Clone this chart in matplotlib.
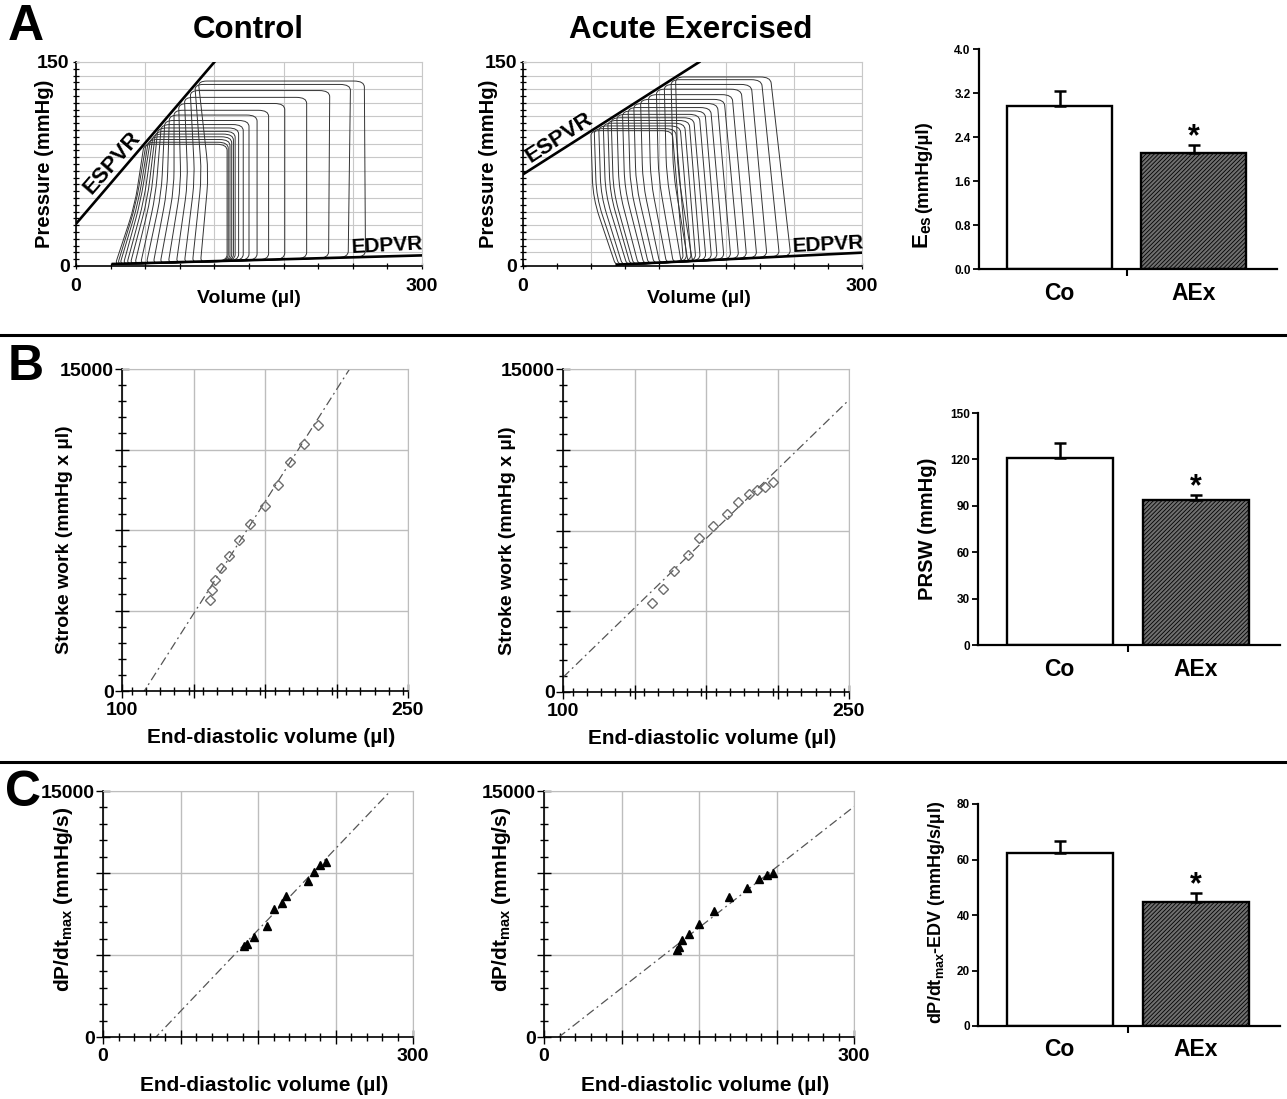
import numpy as np
import matplotlib
matplotlib.use('Agg')
import matplotlib.pyplot as plt
from matplotlib.path import Path
from matplotlib.patches import PathPatch
from matplotlib.lines import Line2D
from matplotlib.ticker import MultipleLocator, FixedLocator, FuncFormatter

plt.rcParams['font.family'] = ['Liberation Sans', 'DejaVu Sans']
plt.rcParams['font.weight'] = 'bold'
plt.rcParams['axes.labelweight'] = 'bold'
plt.rcParams['mathtext.fontset'] = 'custom'
plt.rcParams['mathtext.rm'] = 'Liberation Sans:bold'
plt.rcParams['mathtext.it'] = 'Liberation Sans:bold'
plt.rcParams['mathtext.bf'] = 'Liberation Sans:bold'
plt.rcParams['hatch.linewidth'] = 0.6

# ---- A: PV loops, one entry per loop (volume ul, pressure mmHg), smallest loop first
ctl_ptop = [89.5, 91, 93, 95, 97, 99, 101.5, 104, 107, 111, 114.5, 119.5, 124, 129, 133.5, 136]
ctl_ves = [59, 61, 63, 65, 67, 69, 71, 74, 77, 81, 85, 89, 94, 99, 103, 106]
ctl_mid = [51, 52, 54, 56, 59, 62, 65, 69, 74, 79, 85, 91, 97, 103, 109, 115]
ctl_foot = [34, 36, 38, 41, 44, 47, 51, 56, 61, 67, 73, 80, 87, 94, 101, 108]
ctl_edv_top = [131, 132, 133.5, 135, 136.5, 138, 141, 145, 150, 157, 167, 181, 200, 220, 238, 250]
ctl_edv = [131, 132, 133.5, 135, 136.5, 138, 141, 145, 150, 157, 167, 181, 200, 219, 236, 251]
ctl_espvr_v = [0, 120]
ctl_espvr_p = [31, 150]
ctl_edpvr_v = [32, 300]
ctl_edpvr_p = [1.5, 7.8]

aex_ptop = [99.5, 101, 103, 105, 107, 109, 111.5, 114, 116.5, 119.5, 122.5, 126, 130, 133.5, 137, 139]
aex_ves = [60, 63, 67, 71, 75, 78, 83, 88, 93, 98, 104, 111, 118, 125, 131, 135]
aex_mid = [62, 65, 69, 73, 77, 80, 85, 90, 95, 100, 106, 113, 120, 127, 133, 137]
aex_foot = [82, 85, 88, 92, 95, 98, 102, 107, 111, 116, 121, 127, 133, 140, 146, 150]
aex_edv_top = [132, 135, 139, 143, 147, 151, 156, 161, 166, 172, 178, 185, 193, 202, 211, 219]
aex_edv = [142, 145, 149, 153, 157, 162, 167, 172, 178, 184, 191, 198, 207, 216, 227, 237]
aex_espvr_v = [0, 156]
aex_espvr_p = [67.4, 150]
aex_edpvr_v = [83, 300]
aex_edpvr_p = [1.0, 9.8]

# ---- bar charts (mean, SEM)
groups = ['Co', 'AEx']
ees_mean = [2.96, 2.11]
ees_sem = [0.28, 0.14]
prsw_mean = [120.9, 93.9]
prsw_sem = [9.7, 2.8]
dpdt_edv_mean = [62.5, 44.8]
dpdt_edv_sem = [4.3, 3.0]

# ---- B: stroke work vs EDV
b_ctl_edv = [146.0, 147.2, 148.6, 152.1, 155.9, 161.5, 167.3, 175.0, 181.6, 188.3, 195.3, 202.8]
b_ctl_sw = [4239, 4705, 5155, 5745, 6289, 7019, 7795, 8634, 9596, 10683, 11506, 12391]
b_aex_edv = [146.6, 152.3, 158.4, 165.4, 171.3, 178.8, 186.2, 191.9, 197.5, 202.0, 205.9, 210.2]
b_aex_sw = [4129, 4778, 5629, 6371, 7144, 7732, 8258, 8845, 9186, 9387, 9510, 9742]
b_ctl_fit = (139.3, -15560)   # slope, intercept
b_aex_fit = (85.9, -7910)

# ---- C: dP/dt max vs EDV
c_ctl_edv = [136.1, 139.4, 146.5, 158.7, 165.2, 173.2, 177.1, 198.1, 203.9, 210.3, 216.1]
c_ctl_dpdt = [5556, 5658, 6106, 6778, 7816, 8141, 8609, 9505, 10034, 10482, 10685]
c_aex_edv = [128.8, 130.4, 133.4, 140.5, 149.8, 164.4, 178.6, 196.0, 208.3, 215.4, 221.2]
c_aex_dpdt = [5292, 5495, 5902, 6269, 6920, 7693, 8528, 9098, 9607, 9871, 9993]
c_ctl_fit = (66.1, -3391)
c_aex_fit = (49.2, -713)

W, H = 1287, 1099
fig = plt.figure(figsize=(W / 100, H / 100), dpi=100)


def box(x0, y0, x1, y1):
    return [x0 / W, 1 - y1 / H, (x1 - x0) / W, (y1 - y0) / H]


def ends_only(lo, hi):
    return FuncFormatter(lambda v, p: '%g' % v if abs(v - lo) < 1e-6 or abs(v - hi) < 1e-6 else '')


def loop_path(pts, cuts, scale):
    # closed polyline with rounded corners (quadratic bezier at each vertex)
    p = np.asarray(pts, float) / scale
    n = len(p)
    verts, codes = [], []
    for i in range(n):
        prev, cur, nxt = p[i - 1], p[i], p[(i + 1) % n]
        d1, d2 = prev - cur, nxt - cur
        l1, l2 = np.hypot(*d1), np.hypot(*d2)
        a = cur + d1 * min(cuts[i], 0.45 * l1) / l1
        b = cur + d2 * min(cuts[i], 0.45 * l2) / l2
        verts += [a, cur, b]
        codes += [Path.MOVETO if i == 0 else Path.LINETO, Path.CURVE3, Path.CURVE3]
    verts.append(verts[0])
    codes.append(Path.LINETO)
    return Path(np.array(verts) * scale, codes)


def pv_panel(ax, ptop, ves, mid, foot, edv_top, edv, espvr, edpvr, es_pos, es_rot, ed_pos):
    ax.set_xlim(0, 300)
    ax.set_ylim(0, 150)
    for i in range(len(ptop)):
        edp = np.interp(edv[i], edpvr[0], edpvr[1])
        fp = np.interp(foot[i], edpvr[0], edpvr[1]) - 0.5
        pts = [(foot[i], fp), (edv[i], edp), (edv_top[i], ptop[i]),
               (ves[i], ptop[i]), (mid[i], 0.5 * ptop[i])]
        path = loop_path(pts, [0.02, 0.03, 0.03, 0.025, 0.09], np.array([300.0, 150.0]))
        ax.add_patch(PathPatch(path, fill=False, lw=0.7, ec='#333333', zorder=3))
    ax.plot(espvr[0], espvr[1], color='k', lw=1.9, zorder=4)
    ax.plot(edpvr[0], edpvr[1], color='k', lw=1.9, zorder=4)
    ax.text(es_pos[0], es_pos[1], 'ESPVR', rotation=es_rot, ha='center', va='center', fontsize=16)
    ax.text(ed_pos[0], ed_pos[1], 'EDPVR', rotation=3, ha='center', va='center', fontsize=15)
    ax.xaxis.set_major_locator(MultipleLocator(60))
    ax.xaxis.set_minor_locator(MultipleLocator(30))
    ax.yaxis.set_major_locator(MultipleLocator(10))
    ax.yaxis.set_minor_locator(MultipleLocator(5))
    ax.xaxis.set_major_formatter(ends_only(0, 300))
    ax.yaxis.set_major_formatter(ends_only(0, 150))
    ax.grid(True, which='major', color='#c8c8c8', lw=0.8)
    ax.set_axisbelow(True)
    ax.tick_params(which='both', direction='inout', length=5, width=0.9, labelsize=14)
    ax.tick_params(axis='x', which='both', pad=6)
    ax.tick_params(axis='y', which='both', pad=2)
    for s in ['top', 'right']:
        ax.spines[s].set_color('#c8c8c8')
        ax.spines[s].set_linewidth(0.8)
    for s in ['left', 'bottom']:
        ax.spines[s].set_linewidth(1.2)
    ax.set_xlabel('Volume (µl)', fontsize=14)
    ax.set_ylabel('Pressure (mmHg)', fontsize=14.5)


def fit_panel(ax, x, y, fit, xlim, ymax, xstep, xminor, ystep, yminor, marker, xlabel, ylabel, ysize):
    ax.set_xlim(*xlim)
    ax.set_ylim(0, ymax)
    xx = np.array(xlim, float)
    ax.plot(xx, fit[0] * xx + fit[1], color='#555555', lw=0.9, ls=(0, (7, 3, 1.5, 3)), zorder=2)
    if marker == 'D':
        ax.plot(x, y, 'D', ms=5.5, mfc='none', mec='#6e6e6e', mew=1.0, zorder=3)
    else:
        ax.plot(x, y, '^', ms=5.5, color='k', zorder=3)
    ax.xaxis.set_major_locator(FixedLocator(np.arange(xlim[0], xlim[1] + 0.1, xstep)))
    ax.xaxis.set_minor_locator(MultipleLocator(xminor))
    ax.yaxis.set_major_locator(MultipleLocator(ystep))
    ax.yaxis.set_minor_locator(MultipleLocator(yminor))
    ax.xaxis.set_major_formatter(ends_only(*xlim))
    ax.yaxis.set_major_formatter(ends_only(0, ymax))
    ax.grid(True, which='major', color='#bdbdbd', lw=1.0)
    ax.set_axisbelow(True)
    ax.tick_params(which='major', direction='inout', length=10, width=1.0, labelsize=14)
    ax.tick_params(which='minor', direction='inout', length=6, width=1.0)
    ax.tick_params(axis='x', which='major', pad=3)
    ax.tick_params(axis='y', which='major', pad=1)
    for s in ['top', 'right']:
        ax.spines[s].set_color('#bdbdbd')
    for s in ['left', 'bottom']:
        ax.spines[s].set_linewidth(1.2)
    ax.set_xlabel(xlabel, fontsize=15)
    ax.set_ylabel(ylabel, fontsize=ysize)


def bar_panel(ax, mean, sem, ymax, ystep, fmt):
    x = np.arange(2)
    bars = ax.bar(x, mean, width=0.78, color=['white', '#6f6f6f'], edgecolor='k', linewidth=1.7, zorder=2)
    bars[1].set_hatch('////////')
    ax.errorbar(x, mean, yerr=[np.zeros(2), sem], fmt='none', ecolor='k', elinewidth=1.8,
                capsize=4, capthick=1.8, zorder=3)
    ax.annotate('*', xy=(1, mean[1] + sem[1]), xytext=(0, 0), textcoords='offset points',
                ha='center', va='baseline', fontsize=22, fontweight='bold')
    ax.set_xlim(-0.6, 1.62)
    ax.set_ylim(0, ymax)
    ax.yaxis.set_major_locator(MultipleLocator(ystep))
    ax.yaxis.set_major_formatter(FuncFormatter(lambda v, p: fmt % v))
    ax.set_xticks(x)
    ax.set_xticklabels(groups, fontsize=16.5)
    ax.set_xticks([0.5], minor=True)
    ax.tick_params(axis='x', which='major', length=0, pad=9)
    ax.tick_params(axis='x', which='minor', length=5, width=1.5, direction='out')
    ax.tick_params(axis='y', length=4, width=1.3, labelsize=8.5, pad=2)
    for s in ['top', 'right']:
        ax.spines[s].set_visible(False)
    for s in ['left', 'bottom']:
        ax.spines[s].set_linewidth(1.6)


# ---- row A
axA1 = fig.add_axes(box(76, 62, 422, 266))
pv_panel(axA1, ctl_ptop, ctl_ves, ctl_mid, ctl_foot, ctl_edv_top, ctl_edv,
         (ctl_espvr_v, ctl_espvr_p), (ctl_edpvr_v, ctl_edpvr_p), (31, 76), 49, (270, 15))
axA1.xaxis.set_label_coords(0.5, -0.12)
axA1.yaxis.set_label_coords(-0.065, 0.5)

axA2 = fig.add_axes(box(523, 62, 862, 266))
pv_panel(axA2, aex_ptop, aex_ves, aex_mid, aex_foot, aex_edv_top, aex_edv,
         (aex_espvr_v, aex_espvr_p), (aex_edpvr_v, aex_edpvr_p), (32, 94), 33, (270, 16))
axA2.xaxis.set_label_coords(0.52, -0.12)
axA2.yaxis.set_label_coords(-0.075, 0.5)

axA3 = fig.add_axes(box(979, 49, 1277, 269))
bar_panel(axA3, ees_mean, ees_sem, 4.0, 0.8, '%.1f')
axA3.text(-0.19, 0.245, 'E$_{\\rm es}$', rotation=90, ha='center', va='top',
          fontsize=16, transform=axA3.transAxes)
axA3.text(-0.185, 0.255, '(mmHg/µl)', rotation=90, ha='center', va='bottom',
          fontsize=13.5, transform=axA3.transAxes)

fig.text(248 / W, 1 - 30 / H, 'Control', ha='center', va='center', fontsize=22.5)
fig.text(691 / W, 1 - 30 / H, 'Acute Exercised', ha='center', va='center', fontsize=22.5)

# ---- row B
axB1 = fig.add_axes(box(122, 369, 408, 691))
fit_panel(axB1, b_ctl_edv, b_ctl_sw, b_ctl_fit, (100, 250), 15000, 37.5, 7.5, 3750, 750, 'D',
          'End-diastolic volume (µl)', 'Stroke work (mmHg x µl)', 14)
axB1.xaxis.set_label_coords(0.52, -0.115)
axB1.yaxis.set_label_coords(-0.17, 0.47)

axB2 = fig.add_axes(box(563, 369, 849, 692))
fit_panel(axB2, b_aex_edv, b_aex_sw, b_aex_fit, (100, 250), 15000, 37.5, 7.5, 3750, 750, 'D',
          'End-diastolic volume (µl)', 'Stroke work (mmHg x µl)', 14)
axB2.xaxis.set_label_coords(0.52, -0.115)
axB2.yaxis.set_label_coords(-0.166, 0.47)

axB3 = fig.add_axes(box(978, 413, 1280, 645))
bar_panel(axB3, prsw_mean, prsw_sem, 150, 30, '%d')
axB3.set_ylabel('PRSW (mmHg)', fontsize=14.5)
axB3.yaxis.set_label_coords(-0.135, 0.5)

# ---- row C
axC1 = fig.add_axes(box(103, 791, 413, 1037))
fit_panel(axC1, c_ctl_edv, c_ctl_dpdt, c_ctl_fit, (0, 300), 15000, 75, 15, 5000, 1000, '^',
          'End-diastolic volume (µl)', 'dP/dt$_{\\rm max}$ (mmHg/s)', 15)
axC1.xaxis.set_label_coords(0.52, -0.16)
axC1.yaxis.set_label_coords(-0.09, 0.56)

axC2 = fig.add_axes(box(544, 791, 854, 1037))
fit_panel(axC2, c_aex_edv, c_aex_dpdt, c_aex_fit, (0, 300), 15000, 75, 15, 5000, 1000, '^',
          'End-diastolic volume (µl)', 'dP/dt$_{\\rm max}$ (mmHg/s)', 15)
axC2.xaxis.set_label_coords(0.52, -0.16)
axC2.yaxis.set_label_coords(-0.10, 0.56)

axC3 = fig.add_axes(box(978, 804, 1280, 1026))
bar_panel(axC3, dpdt_edv_mean, dpdt_edv_sem, 80, 20, '%d')
axC3.set_ylabel('dP/dt$_{\\rm max}$-EDV (mmHg/s/µl)', fontsize=13)
axC3.yaxis.set_label_coords(-0.104, 0.51)

# ---- panel letters and separators
fig.text(8 / W, 1 - 4 / H, 'A', ha='left', va='top', fontsize=36)
fig.text(8 / W, 1 - 344 / H, 'B', ha='left', va='top', fontsize=36)
fig.text(5 / W, 1 - 770 / H, 'C', ha='left', va='top', fontsize=36)
for yy in [335, 762]:
    fig.add_artist(Line2D([0, 1], [1 - yy / H, 1 - yy / H], color='k', lw=2.2,
                          transform=fig.transFigure))

fig.savefig('out.png', dpi=100)
